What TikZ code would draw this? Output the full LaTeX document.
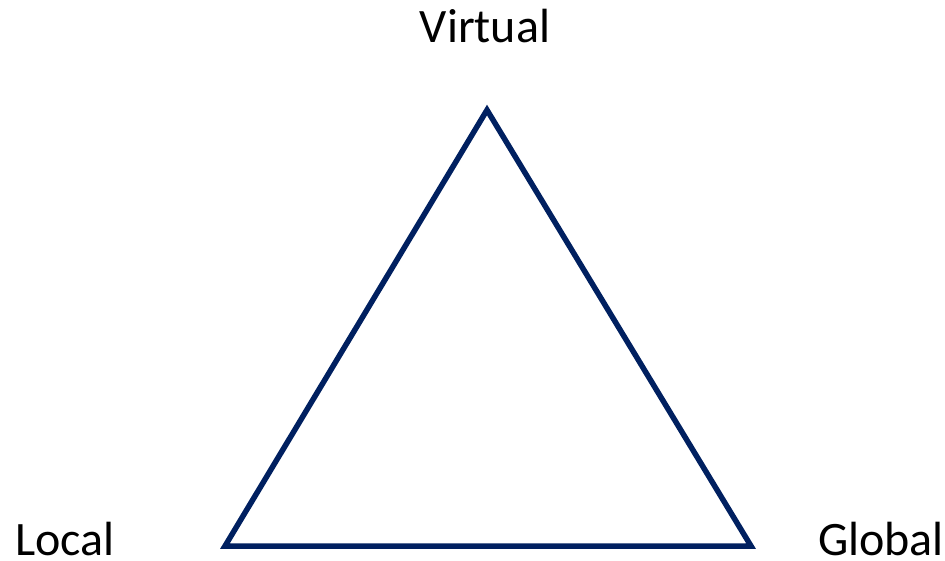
\documentclass[tikz,border=0pt]{standalone}
\usepackage{fontspec}
\setmainfont{Carlito}
\definecolor{navy}{HTML}{002060}
\begin{document}
\begin{tikzpicture}[x=1pt,y=-1pt,
  lbl/.style={font=\fontsize{48}{58}\selectfont, inner sep=0pt, text depth=0pt, text=black},
  edge/.style={draw=navy, line width=5.5pt, line join=miter}]
\useasboundingbox (0,0) rectangle (945,560);
\coordinate (top) at (487,110);
\coordinate (bl) at (225,546);
\coordinate (br) at (751,546);
\draw[edge] (top) -- (br) -- (bl) -- cycle;
\node[lbl, anchor=base] (virtual) at (485,42) {Virtual};
\node[lbl, anchor=base west] (local) at (15,555) {Local};
\node[lbl, anchor=base west] (global) at (818,555) {Global};
\end{tikzpicture}
\end{document}
